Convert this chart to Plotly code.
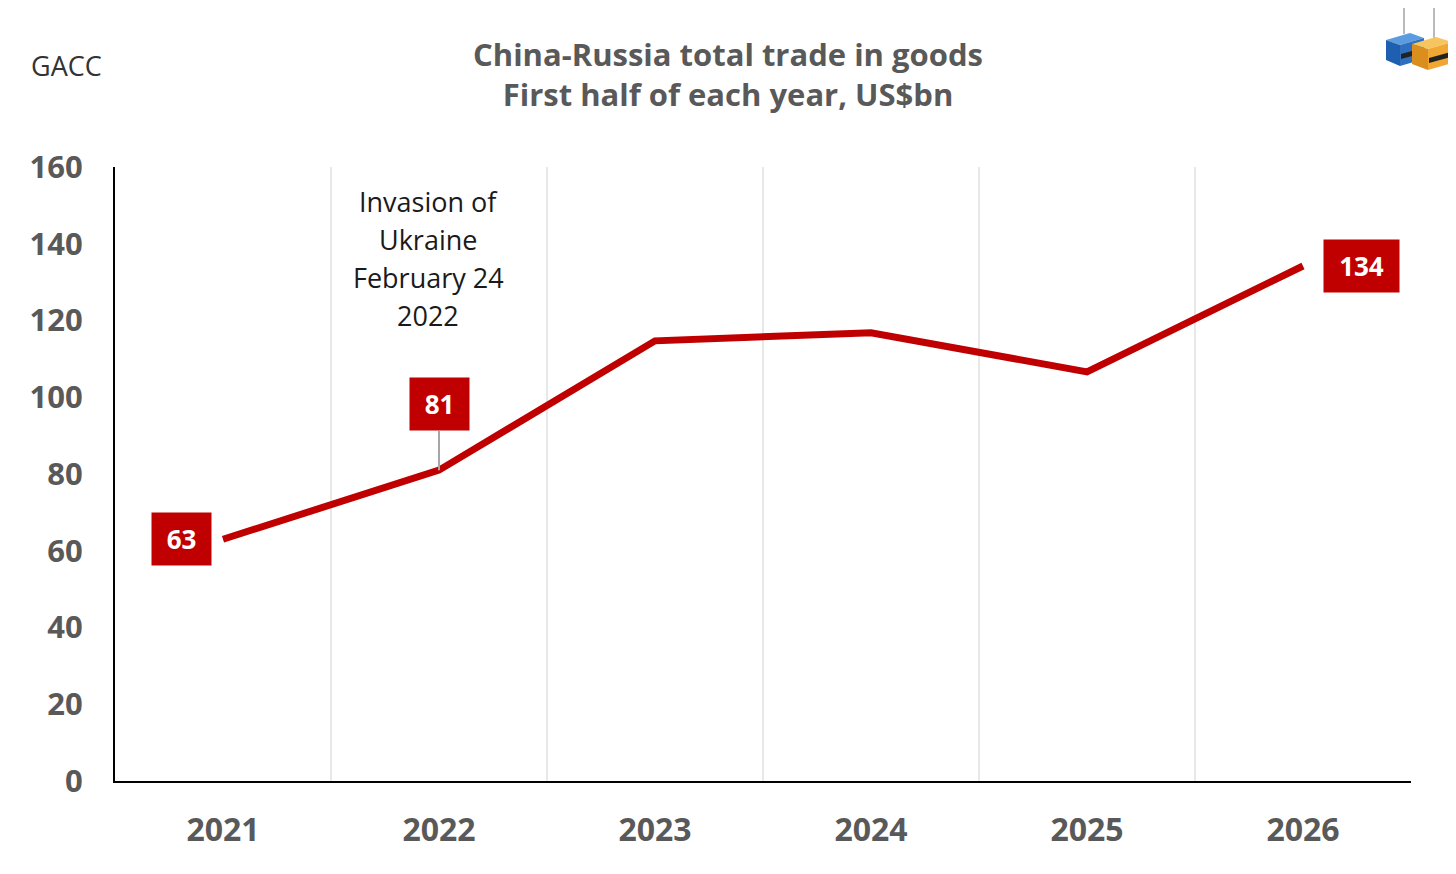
import plotly.graph_objects as go

# data
years = [2021, 2022, 2023, 2024, 2025, 2026]
trade = [63, 81, 114.7, 116.8, 106.6, 134.2]
labels = ["63", "81", "", "", "", "134"]

note_lines = ["Invasion of", "Ukraine", "February 24", "2022"]

y_ticks = [0, 20, 40, 60, 80, 100, 120, 140, 160]

red = "#c00000"
grey = "#595959"

# page body has an 8px margin, so the figure sits at (8, 8)
W, H = 1440, 858
ML, MR, MT, MB = 107, 37, 159, 85
PW, PH = W - ML - MR, H - MT - MB


def px(x):
    # screen pixel -> paper x
    return (x - 8 - ML) / PW


def py(y):
    # screen pixel -> paper y
    return (H - MB + 8 - y) / PH


fig = go.Figure()
fig.add_trace(go.Scatter(
    x=years,
    y=trade,
    mode="lines",
    line=dict(color=red, width=7),
    hoverinfo="skip",
    showlegend=False,
))

# value boxes
box_font = dict(family="Open Sans", size=26, color="white")
fig.add_annotation(x=years[0], y=trade[0], text="<b>%s</b>" % labels[0],
                   showarrow=False, xshift=-42, bgcolor=red, width=57, height=50,
                   font=box_font)
fig.add_annotation(x=years[1], y=trade[1], text="<b>%s</b>" % labels[1],
                   showarrow=True, arrowhead=0, arrowwidth=2, arrowcolor="#a6a6a6",
                   ax=0, ay=-66, bgcolor=red, width=57, height=50, font=box_font)
fig.add_annotation(x=years[5], y=trade[5], text="<b>%s</b>" % labels[5],
                   showarrow=False, xshift=58, bgcolor=red, width=73, height=50,
                   font=box_font)

# event note, one line at a time (the original has loose line spacing)
for i, line in enumerate(note_lines):
    fig.add_annotation(x=px(428), y=py(201 + 38 * i), xref="paper", yref="paper",
                       text=line, showarrow=False, xanchor="center", yanchor="middle",
                       font=dict(family="Open Sans", size=27, color="#1a1a1a"))

# source
fig.add_annotation(x=px(29), y=py(66), xref="paper", yref="paper", text="GACC",
                   xanchor="left", yanchor="middle", showarrow=False,
                   font=dict(family="Open Sans", size=27, color="#333333"))

# little logo: two containers hanging from hooks
def quad(pts, colour):
    path = "M " + " L ".join("%f %f" % (px(a), py(b)) for a, b in pts) + " Z"
    fig.add_shape(type="path", xref="paper", yref="paper", path=path,
                  fillcolor=colour, line=dict(width=0))


fig.add_shape(type="line", xref="paper", yref="paper",
              x0=px(1404), y0=py(6), x1=px(1404), y1=py(34), line=dict(color="#777", width=1))
fig.add_shape(type="line", xref="paper", yref="paper",
              x0=px(1434), y0=py(6), x1=px(1434), y1=py(38), line=dict(color="#777", width=1))
# blue box: top, front, side
quad([(1386, 40), (1410, 33), (1424, 38), (1400, 45)], "#5b9be0")
quad([(1386, 40), (1400, 45), (1400, 66), (1386, 60)], "#1f5fb0")
quad([(1400, 45), (1424, 38), (1424, 59), (1400, 66)], "#2f6fc0")
quad([(1401, 54), (1423, 48), (1423, 53), (1401, 59)], "#222222")
# orange box
quad([(1412, 44), (1436, 37), (1452, 42), (1428, 49)], "#f7c560")
quad([(1412, 44), (1428, 49), (1428, 70), (1412, 64)], "#d98e1e")
quad([(1428, 49), (1452, 42), (1452, 63), (1428, 70)], "#f0a832")
quad([(1429, 58), (1451, 52), (1451, 57), (1429, 63)], "#222222")

fig.update_layout(
    width=W,
    height=H,
    margin=dict(l=ML, r=MR, t=MT, b=MB),
    paper_bgcolor="white",
    plot_bgcolor="white",
    title=dict(
        text="<b>China-Russia total trade in goods<br>First half of each year, US$bn</b>",
        x=0.5, xanchor="center", y=(H - 58) / H, yanchor="top",
        font=dict(family="Open Sans", size=31, color=grey),
    ),
    xaxis=dict(
        range=[2020.5, 2026.5],
        tickvals=years,
        ticktext=["<b>%d</b>" % y for y in years],
        tickfont=dict(family="Open Sans", size=32, color=grey),
        showgrid=False,
        showline=True, linecolor="black", linewidth=2,
        ticks="", zeroline=False,
        ticklabelstandoff=20,
        minor=dict(tick0=2020.5, dtick=1, showgrid=True, gridcolor="#e8e8e8", gridwidth=2),
        fixedrange=True,
    ),
    yaxis=dict(
        range=[0, 160],
        tickvals=y_ticks,
        ticktext=["<b>%d</b>" % v for v in y_ticks],
        tickfont=dict(family="Open Sans", size=31, color=grey),
        showgrid=False,
        showline=True, linecolor="black", linewidth=2,
        ticks="", zeroline=False,
        ticklabelstandoff=24,
        fixedrange=True,
    ),
)

fig.write_html("out.html")
